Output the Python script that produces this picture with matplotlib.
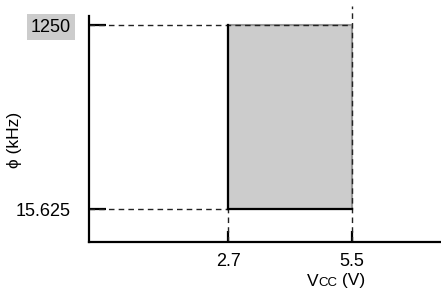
import matplotlib
matplotlib.use("Agg")
import matplotlib.pyplot as plt
from matplotlib.patches import Rectangle
from matplotlib.offsetbox import TextArea, HPacker, AnnotationBbox

plt.rcParams['font.family'] = ['Liberation Sans', 'DejaVu Sans']

# data
vcc_ticks = [2.7, 5.5]
vcc_labels = ["2.7", "5.5"]
freq_ticks = [15.625, 1250]
freq_labels = ["15.625", "1250"]
vcc_min, vcc_max = 2.7, 5.5
f_min, f_max = 15.625, 1250

fig = plt.figure(figsize=(4.41, 2.91), dpi=100)
ax = fig.add_axes([89/441, 1-242/291, 1-89/441, (242-16)/291])
ax.set_yscale('log')
ax.set_xlim(-0.439, 7.51)
ax.set_ylim(7.13, 1549)
ax.minorticks_off()

for s in ['top', 'right']:
    ax.spines[s].set_visible(False)
for s in ['left', 'bottom']:
    ax.spines[s].set_linewidth(1.6)

# shaded region
ax.add_patch(Rectangle((vcc_min, f_min), vcc_max-vcc_min, f_max-f_min,
                       facecolor='#cccccc', edgecolor='#999999', linewidth=1.5, zorder=1))
ax.plot([vcc_min, vcc_min], [f_min, f_max], color='black', lw=1.6, zorder=3)
ax.plot([vcc_min, vcc_max], [f_min, f_min], color='black', lw=1.6, zorder=3)

dash = (0, (4, 3))
# horizontal guides
ax.plot([ax.get_xlim()[0], vcc_max], [f_max, f_max], color='#222222', lw=1.0, ls=dash, zorder=2)
ax.plot([ax.get_xlim()[0], vcc_min], [f_min, f_min], color='#222222', lw=1.0, ls=dash, zorder=2)
# vertical guides
ax.plot([vcc_min, vcc_min], [ax.get_ylim()[0], f_min], color='#222222', lw=1.0, ls=dash, zorder=2)
ax.plot([vcc_max, vcc_max], [ax.get_ylim()[0], 1950], color='#222222', lw=1.0, ls=dash,
        zorder=2, clip_on=False)

ax.set_xticks(vcc_ticks)
ax.set_xticklabels(vcc_labels)
ax.set_yticks(freq_ticks)
ax.set_yticklabels(freq_labels)
ax.tick_params(axis='y', direction='in', length=12, width=1.6, pad=13, labelsize=13)
ax.tick_params(axis='x', direction='in', length=8, width=1.6, pad=8, labelsize=13)

for lab in ax.get_yticklabels():
    if lab.get_text() == "1250":
        lab.set_bbox(dict(facecolor='#cccccc', edgecolor='none', pad=3))

fig.text(15/441, 1-140/291, "ϕ (kHz)", rotation=90, ha='center', va='center', fontsize=12.5)

ta = HPacker(children=[TextArea("V", textprops=dict(fontsize=12.5)),
                       TextArea("CC", textprops=dict(fontsize=9.5)),
                       TextArea(" (V)", textprops=dict(fontsize=12.5))],
             align='baseline', pad=0, sep=0)
ab = AnnotationBbox(ta, (336/441, 1-281/291), xycoords='figure fraction',
                    frameon=False, box_alignment=(0.5, 0.5))
fig.add_artist(ab)

fig.savefig("out.png", dpi=100)
